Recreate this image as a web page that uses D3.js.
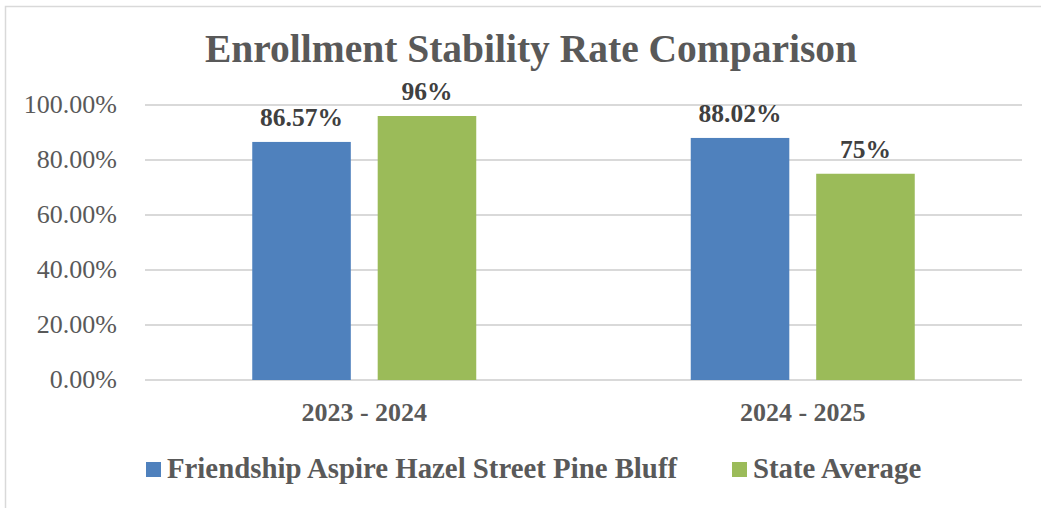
<!DOCTYPE html>
<html lang="en">
<head>
  <meta charset="UTF-8" />
  <title>Enrollment Stability Rate Comparison</title>
  <script src="https://d3js.org/d3.v7.min.js"></script>
  <style>
    body { margin: 0; background: #fff; }
    svg { display: block; }
    text { font-family: "Liberation Serif", "DejaVu Serif", serif; }
  </style>
</head>
<body>
  <svg width="1041" height="508" id="chart"></svg>
  <script>
    // data
    const categories = ["2023 - 2024", "2024 - 2025"];
    const seriesNames = ["Friendship Aspire Hazel Street Pine Bluff", "State Average"];
    const schoolValues = [0.8657, 0.8802];
    const stateValues = [0.96, 0.75];
    const valueLabels = [["86.57%", "96%"], ["88.02%", "75%"]];
    const yTicks = [0, 0.2, 0.4, 0.6, 0.8, 1.0];
    const colors = ["#4f81bd", "#9bbb59"];

    const svg = d3.select("#chart");
    const margin = { left: 145, right: 1022, top: 105, bottom: 380 };

    // outer frame
    svg.append("rect")
      .attr("x", 5.5).attr("y", 6.5)
      .attr("width", 1100).attr("height", 600)
      .attr("fill", "none").attr("stroke", "#d9d9d9").attr("stroke-width", 1.5);

    const x = d3.scaleBand().domain(categories).range([margin.left, margin.right]);
    const x1 = d3.scaleBand().domain(seriesNames)
      .range([x.bandwidth() / 2 - 112, x.bandwidth() / 2 + 112])
      .paddingInner(0.2143);
    const y = d3.scaleLinear().domain([0, 1]).range([margin.bottom, margin.top]);

    // gridlines
    svg.append("g").selectAll("line").data(yTicks).join("line")
      .attr("x1", margin.left).attr("x2", margin.right)
      .attr("y1", d => y(d)).attr("y2", d => y(d))
      .attr("stroke", "#d9d9d9").attr("stroke-width", 2);

    // y axis labels
    svg.append("g").selectAll("text").data(yTicks).join("text")
      .attr("x", 117).attr("y", d => y(d) + 8)
      .attr("text-anchor", "end")
      .attr("font-size", "26px").attr("fill", "#595959")
      .text(d => d3.format(".2%")(d));

    // bars
    const rows = categories.map((c, i) => ({ cat: c, vals: [schoolValues[i], stateValues[i]], labels: valueLabels[i] }));
    const groups = svg.append("g").selectAll("g").data(rows).join("g")
      .attr("transform", d => `translate(${x(d.cat)},0)`);

    groups.selectAll("rect")
      .data(d => d.vals.map((v, j) => ({ name: seriesNames[j], v, j })))
      .join("rect")
      .attr("x", d => x1(d.name)).attr("width", x1.bandwidth())
      .attr("y", d => y(d.v)).attr("height", d => y(0) - y(d.v))
      .attr("fill", d => colors[d.j]);

    groups.selectAll("text")
      .data(d => d.vals.map((v, j) => ({ name: seriesNames[j], v, label: d.labels[j] })))
      .join("text")
      .attr("x", d => x1(d.name) + x1.bandwidth() / 2)
      .attr("y", d => y(d.v) - 16)
      .attr("text-anchor", "middle")
      .attr("font-size", "25.5px").attr("font-weight", "bold").attr("fill", "#404040")
      .text(d => d.label);

    // category labels
    svg.append("g").selectAll("text").data(categories).join("text")
      .attr("x", d => x(d) + x.bandwidth() / 2).attr("y", 421)
      .attr("text-anchor", "middle")
      .attr("font-size", "26px").attr("font-weight", "bold").attr("fill", "#595959")
      .text(d => d);

    // title
    svg.append("text")
      .attr("x", 531).attr("y", 62)
      .attr("text-anchor", "middle")
      .attr("font-size", "39.5px").attr("font-weight", "bold").attr("fill", "#595959")
      .text("Enrollment Stability Rate Comparison");

    // legend
    const legendX = [146, 732];
    const legend = svg.append("g").selectAll("g").data(seriesNames).join("g")
      .attr("transform", (d, i) => `translate(${legendX[i]},462)`);
    legend.append("rect").attr("width", 15).attr("height", 15)
      .attr("fill", (d, i) => colors[i]);
    legend.append("text").attr("x", 21).attr("y", 16)
      .attr("font-size", "28.8px").attr("font-weight", "bold").attr("fill", "#595959")
      .text(d => d);
  </script>
</body>
</html>
